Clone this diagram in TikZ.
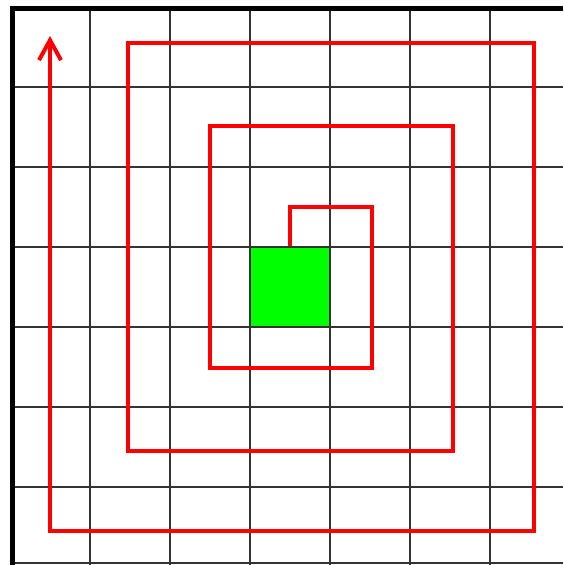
\documentclass[tikz,border=0pt]{standalone}
\usetikzlibrary{arrows.meta}
\begin{document}
\begin{tikzpicture}[x=1pt,y=-1pt,
  gridline/.style={draw=black!80,line width=1.2pt},
  frame/.style={draw=black,line width=5pt},
  spiral/.style={draw=red,line width=4.5pt,line join=miter},
  goal/.style={fill=green,draw=black!80,line width=1.2pt,minimum size=80pt,inner sep=0pt}]
\useasboundingbox (0,0) rectangle (563,565);
\fill[white] (0,0) rectangle (563,565);
\foreach \x in {90,170,250,330,410,490} \draw[gridline] (\x,8) -- (\x,565);
\foreach \y in {87,167,247,327,407,487,563} \draw[gridline] (12,\y) -- (563,\y);
\node[goal] (g) at (290,287) {};
\draw[frame] (12.5,565) -- (12.5,8) -- (563,8);
\coordinate (s) at (g.north);
\draw[spiral,-{Straight Barb[length=20pt,width=22pt,line width=4pt]}]
  (s) -- (290,207) -- (372,207) -- (372,368) -- (210,368) -- (210,126)
  -- (453,126) -- (453,451) -- (128,451) -- (128,43) -- (534,43)
  -- (534,531) -- (50,531) -- (50,36);
\end{tikzpicture}
\end{document}
